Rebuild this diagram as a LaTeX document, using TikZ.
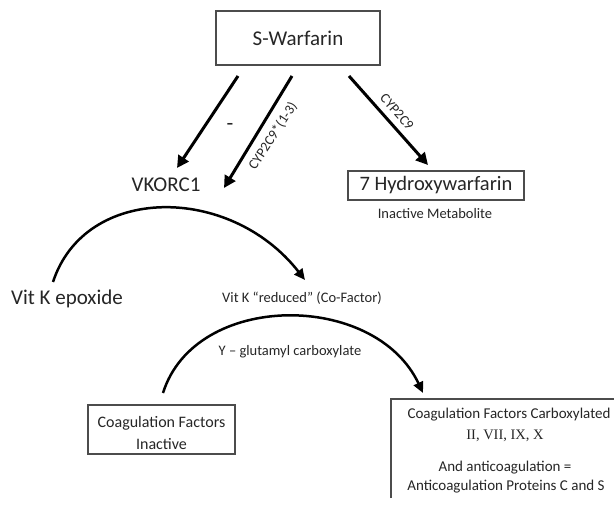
\documentclass[tikz,border=0pt]{standalone}
\usepackage{fontspec}
\setmainfont{Carlito}
\newfontfamily\timesf{Liberation Serif}
\usetikzlibrary{arrows.meta}
\definecolor{txt}{gray}{0.15}
\definecolor{boxc}{gray}{0.3}
\tikzset{
  box/.style={draw=boxc, line width=1.5pt, inner sep=0pt},
  bigtxt/.style={text=txt, font=\fontsize{21}{25}\selectfont},
  smalltxt/.style={text=txt, font=\fontsize{14.5}{17}\selectfont},
  medtxt/.style={text=txt, font=\fontsize{15}{18}\selectfont},
  lbl/.style={text=txt, font=\fontsize{14}{16}\selectfont, inner sep=1pt},
  bigarrow/.style={line width=3pt, -{Triangle[length=12pt,width=12pt]}},
  arcarrow/.style={line width=2.5pt, -{Triangle[length=11pt,width=10pt]}},
}
\begin{document}
\begin{tikzpicture}[x=1pt,y=-1pt]
\useasboundingbox (0,0) rectangle (614,508);
\fill[white] (0,0) rectangle (614,508);

% nodes
\node[box, minimum width=164pt, minimum height=54pt, text=txt, font=\fontsize{21}{25}\selectfont] (sw) at (298,38) {S-Warfarin};
\node[bigtxt] (vk) at (166,185) {VKORC1};
\node[box, text=txt, font=\fontsize{20.5}{24}\selectfont, minimum width=176pt, minimum height=29pt] (hw) at (436,185.5) {7 Hydroxywarfarin};
\node[smalltxt] (im) at (435,214) {Inactive Metabolite};
\node[bigtxt] (epo) at (67,299) {Vit K epoxide};
\node[smalltxt] (red) at (302,298) {Vit K “reduced” (Co-Factor)};
\node[smalltxt] (glu) at (290,352) {Y – glutamyl carboxylate};
\node[box, minimum width=147pt, minimum height=49pt] (cfi) at (161.5,429.5) {};
\node[text=txt, font=\fontsize{16}{19}\selectfont] (cfi1) at (161.5,423) {Coagulation Factors};
\node[text=txt, font=\fontsize{16}{19}\selectfont] (cfi2) at (161.5,444) {Inactive};

% bottom-right box (cropped)
\coordinate (brb) at (391,498);
\coordinate (brc) at (391,399);
\coordinate (brr) at (614,399);
\draw[draw=boxc, line width=1.5pt] (brb) -- (brc) -- (brr);
\node[medtxt] (cf1) at (509,415) {Coagulation Factors Carboxylated};
\node[text=txt, font=\timesf\fontsize{14.5}{17}\selectfont] (cf2) at (505,436) {II, VII, IX, X};
\node[medtxt] (cf3) at (505,468) {And anticoagulation =};
\node[medtxt] (cf4) at (506,487) {Anticoagulation Proteins C and S};

% arrows from S-Warfarin
\coordinate (a1s) at (238,76);
\coordinate (a1e) at (177,168);
\coordinate (a2s) at (292,76);
\coordinate (a2e) at (224,188);
\coordinate (a3s) at (349,76);
\coordinate (a3e) at (428,165);
\draw[bigarrow] (a1s) -- (a1e);
\draw[bigarrow] (a2s) -- (a2e);
\draw[bigarrow] (a3s) -- (a3e);
\node[text=txt, font=\fontsize{22}{24}\selectfont, inner sep=0pt] (minus) at (230,127) {-};
\node[lbl, rotate=57] (cyp1) at (273,136) {CYP2C9*(1-3)};
\node[lbl, rotate=-48.5] (cyp2) at (397,112) {CYP2C9};

% arcs
\coordinate (c1s) at (53,282);
\coordinate (c1e) at (305,280);
\draw[arcarrow] (c1s) .. controls (85,184) and (230,184) .. (c1e);
\coordinate (c2s) at (163,393);
\coordinate (c2e) at (423,393);
\draw[arcarrow] (c2s) .. controls (195,291) and (375,291) .. (c2e);
\end{tikzpicture}
\end{document}
